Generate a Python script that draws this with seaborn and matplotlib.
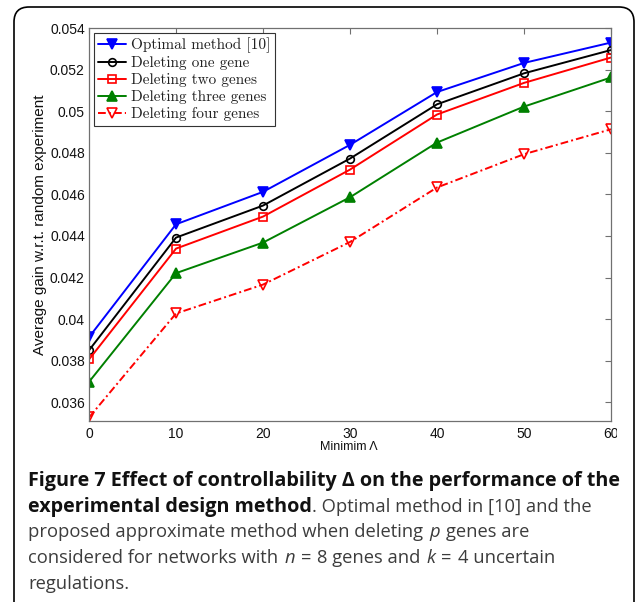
import matplotlib
matplotlib.use("Agg")
import matplotlib.pyplot as plt
import seaborn as sns
from matplotlib.patches import FancyBboxPatch, Rectangle
from matplotlib.transforms import IdentityTransform
from matplotlib.lines import Line2D

# ---- data -------------------------------------------------------------
min_delta = [0, 10, 20, 30, 40, 50, 60]
optimal = [0.03913, 0.04456, 0.04612, 0.04838, 0.05092, 0.05232, 0.05330]
delete_one = [0.03850, 0.04392, 0.04546, 0.04772, 0.05033, 0.05182, 0.05294]
delete_two = [0.03806, 0.04339, 0.04493, 0.04719, 0.04984, 0.05136, 0.05258]
delete_three = [0.03698, 0.04221, 0.04368, 0.04586, 0.04849, 0.05022, 0.05162]
delete_four = [0.03527, 0.04027, 0.04166, 0.04371, 0.04633, 0.04793, 0.04913]

series_labels = ["Optimal method [10]", "Deleting one gene", "Deleting two genes",
                 "Deleting three genes", "Deleting four genes"]
x_ticks = [0, 10, 20, 30, 40, 50, 60]
y_ticks = [0.036, 0.038, 0.040, 0.042, 0.044, 0.046, 0.048, 0.050, 0.052, 0.054]
y_tick_labels = ["0.036", "0.038", "0.04", "0.042", "0.044", "0.046",
                 "0.048", "0.05", "0.052", "0.054"]

# ---- style ------------------------------------------------------------
sns.set_style("white")
plt.rcParams["font.family"] = ["Liberation Sans", "DejaVu Sans"]

W, H = 636, 602
fig = plt.figure(figsize=(W / 100, H / 100), dpi=100)
ax = fig.add_axes([89 / W, 1 - 421 / H, (611 - 89) / W, (421 - 28) / H])

styles = [
    dict(color=(0, 0, 1), marker="v", ms=6.5, mfc=(0, 0, 1), ls="-"),
    dict(color="black", marker="o", ms=5.5, mfc="none", ls="-"),
    dict(color=(1, 0, 0), marker="s", ms=5.5, mfc="none", ls="-"),
    dict(color=(0, 0.5, 0), marker="^", ms=6.5, mfc=(0, 0.5, 0), ls="-"),
    dict(color=(1, 0, 0), marker="v", ms=7.5, mfc="none", ls=(0, (4, 1.6, 1, 1.6))),
]
all_series = [optimal, delete_one, delete_two, delete_three, delete_four]

handles = []
for vals, st in zip(all_series, styles):
    sns.lineplot(x=min_delta, y=vals, ax=ax, color=st["color"], lw=1.4,
                 linestyle=st["ls"], marker=st["marker"], markersize=st["ms"],
                 markerfacecolor=st["mfc"], markeredgecolor=st["color"],
                 markeredgewidth=1.2, legend=False)
    handles.append(Line2D([], [], color=st["color"], lw=1.4, linestyle=st["ls"],
                          marker=st["marker"], markersize=st["ms"],
                          markerfacecolor=st["mfc"], markeredgecolor=st["color"],
                          markeredgewidth=1.2))

ax.set_xlim(0, 60)
ax.set_ylim(0.0351, 0.054)
ax.set_xticks(x_ticks)
ax.set_xticklabels([str(v) for v in x_ticks])
ax.set_yticks(y_ticks)
ax.set_yticklabels(y_tick_labels)
ax.tick_params(direction="in", top=True, right=True, length=4, width=0.8,
               color="#707070", labelsize=10, labelcolor="#111111")
ax.tick_params(axis="x", pad=4)
ax.tick_params(axis="y", pad=3)
for sp in ax.spines.values():
    sp.set_color("#707070")
    sp.set_linewidth(0.9)
    sp.set_visible(True)

ax.set_ylabel("Average gain w.r.t. random experiment", fontsize=11, labelpad=2,
              color="#111111")
fig.text(349 / W, 1 - 447 / H, "Minimim \u039b", fontsize=9, ha="center",
         va="center", color="#111111")

leg = ax.legend(handles, series_labels, loc="upper left", prop={"family": "cmr10", "size": 11},
                frameon=True, fancybox=False, edgecolor="#333333", framealpha=1,
                borderaxespad=0.3, handlelength=1.8, handletextpad=0.35,
                labelspacing=0.2, borderpad=0.3)
leg.get_frame().set_linewidth(0.8)
for t in leg.get_texts():
    t.set_color("#222222")

# clipped right edge of the plot image
fig.patches.append(Rectangle((617, H - 442), 14, 22, transform=IdentityTransform(),
                             facecolor="white", edgecolor="none", zorder=5))

# ---- caption ----------------------------------------------------------
fig.canvas.draw()
renderer = fig.canvas.get_renderer()
cap_font = ["Open Sans", "DejaVu Sans"]
reg_size = 13.2
bold_size = 14.2

bold = dict(weight="bold", color="#111111", fontsize=bold_size)
reg = dict(color="#3c3c3c", fontsize=reg_size)
ital = dict(style="italic", color="#3c3c3c", fontsize=reg_size)


def text_width(s, **kw):
    t = fig.text(0, 0, s, family=cap_font, **kw)
    w = t.get_window_extent(renderer).width
    t.remove()
    return w


sp_w = text_width("a a", **reg) - text_width("aa", **reg)


def seg_line(parts, x0, y):
    x = x0
    for s, kw in parts:
        if s == " ":
            x += sp_w * 1.25
            continue
        t = fig.text(x / W, 1 - y / H, s, family=cap_font,
                     va="baseline", ha="left", **kw)
        x += t.get_window_extent(renderer).width


x0 = 28
seg_line([("Figure 7 Effect of controllability \u0394 on the performance of the", bold)], x0, 486)
seg_line([("experimental design method", bold), (". Optimal method in [10] and the", reg)], x0, 512)
seg_line([("proposed approximate method when deleting", reg), (" ", None), ("p", ital),
          (" ", None), ("genes are", reg)], x0, 537)
seg_line([("considered for networks with", reg), (" ", None), ("n", ital), (" ", None),
          ("=", reg), (" ", None), ("8 genes and", reg), (" ", None), ("k", ital),
          (" ", None), ("=", reg), (" ", None), ("4 uncertain", reg)], x0, 563)
seg_line([("regulations.", reg)], x0, 589)

# rounded frame around the figure
fig.patches.append(FancyBboxPatch((14, -20), 634 - 14, (H - 7) + 20, transform=IdentityTransform(),
                                  boxstyle="round,pad=0,rounding_size=15",
                                  facecolor="none", edgecolor="black", linewidth=1.2,
                                  zorder=10))

fig.savefig("out.png", dpi=100)
